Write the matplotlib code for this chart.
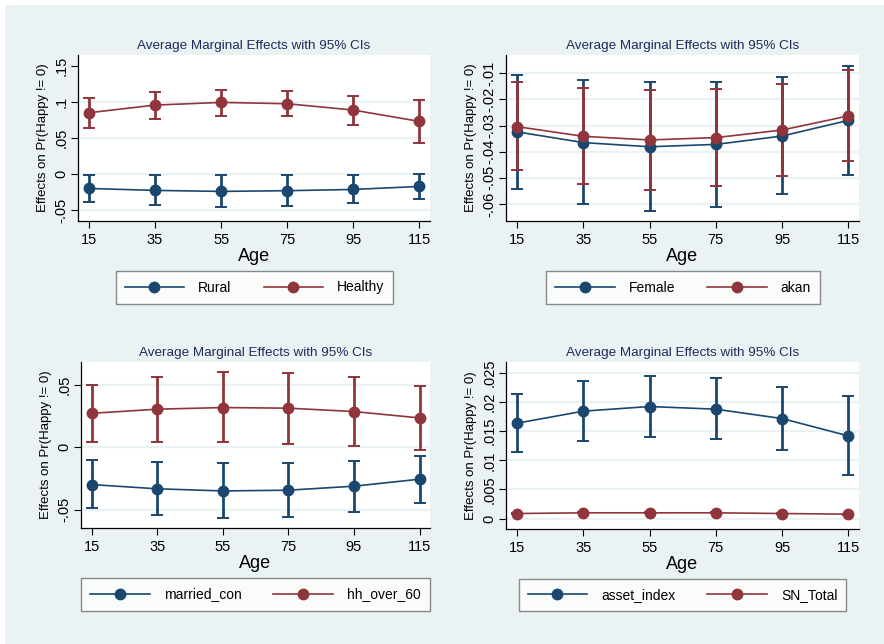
import matplotlib
matplotlib.use("Agg")
import matplotlib.pyplot as plt
from matplotlib.patches import Rectangle

plt.rcParams["font.family"] = ["Liberation Sans", "DejaVu Sans"]

BLUE = "#1a476f"
RED = "#90353b"
BG = "#eaf2f3"
TITLE_C = "#1e2c5c"

ages = [15, 35, 55, 75, 95, 115]

# panel 1
rural = [-0.0199, -0.0226, -0.0240, -0.0230, -0.0213, -0.0171]
rural_lo = [-0.0388, -0.0434, -0.0453, -0.0444, -0.0407, -0.0351]
rural_hi = [-0.0014, -0.0014, -0.0014, -0.0014, -0.0009, 0.0000]
healthy = [0.0850, 0.0956, 0.0993, 0.0975, 0.0887, 0.0730]
healthy_lo = [0.0640, 0.0767, 0.0810, 0.0800, 0.0680, 0.0430]
healthy_hi = [0.1050, 0.1140, 0.1170, 0.1146, 0.1080, 0.1026]

# panel 2
female = [-0.0324, -0.0365, -0.0381, -0.0372, -0.0340, -0.0280]
female_lo = [-0.0541, -0.0601, -0.0627, -0.0613, -0.0563, -0.0489]
female_hi = [-0.0106, -0.0127, -0.0134, -0.0132, -0.0115, -0.0071]
akan = [-0.0304, -0.0341, -0.0355, -0.0346, -0.0317, -0.0263]
akan_lo = [-0.0471, -0.0525, -0.0546, -0.0532, -0.0493, -0.0434]
akan_hi = [-0.0132, -0.0156, -0.0164, -0.0160, -0.0140, -0.0089]

# panel 3
married = [-0.0298, -0.0332, -0.0349, -0.0343, -0.0311, -0.0255]
married_lo = [-0.0488, -0.0544, -0.0568, -0.0558, -0.0515, -0.0445]
married_hi = [-0.0105, -0.0118, -0.0123, -0.0123, -0.0107, -0.0067]
hh60 = [0.0273, 0.0306, 0.0319, 0.0314, 0.0287, 0.0236]
hh60_lo = [0.0043, 0.0046, 0.0040, 0.0029, 0.0008, -0.0024]
hh60_hi = [0.0499, 0.0566, 0.0601, 0.0598, 0.0560, 0.0493]

# panel 4
asset = [0.01638, 0.01845, 0.01925, 0.01879, 0.01718, 0.01420]
asset_lo = [0.01144, 0.01339, 0.01402, 0.01362, 0.01172, 0.00741]
asset_hi = [0.02144, 0.02356, 0.02448, 0.02408, 0.02264, 0.02103]
sn = [0.00086, 0.00098, 0.00098, 0.00098, 0.00086, 0.00075]
sn_lo = [0.00080, 0.00090, 0.00090, 0.00090, 0.00080, 0.00068]
sn_hi = [0.00092, 0.00106, 0.00106, 0.00106, 0.00092, 0.00082]

W, H = 884, 644
fig = plt.figure(figsize=(W / 100, H / 100), dpi=100)
fig.patch.set_facecolor("white")
fig.patches.append(Rectangle((5 / W, 0), 1, 1 - 5 / H, transform=fig.transFigure,
                             facecolor=BG, edgecolor="none", zorder=-10))


def px_axes(l, t, r, b):
    return fig.add_axes([l / W, 1 - b / H, (r - l) / W, (b - t) / H])


panels = [
    dict(box=(78, 55, 430, 221), ylim=(-0.065, 0.165),
         yticks=[-0.05, 0, 0.05, 0.1, 0.15], ylabels=["-.05", "0", ".05", ".1", ".15"],
         grid=[-0.05, 0, 0.05, 0.1],
         series=[("Rural", rural, rural_lo, rural_hi, BLUE),
                 ("Healthy", healthy, healthy_lo, healthy_hi, RED)],
         legend=(116, 272, 393, 303)),
    dict(box=(506, 55, 859, 221), ylim=(-0.0665, -0.003),
         yticks=[-0.06, -0.05, -0.04, -0.03, -0.02, -0.01],
         ylabels=["-.06", "-.05", "-.04", "-.03", "-.02", "-.01"],
         grid=[-0.06, -0.05, -0.04, -0.03, -0.02, -0.01],
         series=[("Female", female, female_lo, female_hi, BLUE),
                 ("akan", akan, akan_lo, akan_hi, RED)],
         legend=(546, 272, 820, 303)),
    dict(box=(81, 362, 430, 528), ylim=(-0.0646, 0.0684),
         yticks=[-0.05, 0, 0.05], ylabels=["-.05", "0", ".05"],
         grid=[-0.05, 0, 0.05],
         series=[("married_con", married, married_lo, married_hi, BLUE),
                 ("hh_over_60", hh60, hh60_lo, hh60_hi, RED)],
         legend=(87, 579, 424, 610)),
    dict(box=(506, 362, 859, 529), ylim=(-0.0018, 0.0269),
         yticks=[0, 0.005, 0.01, 0.015, 0.02, 0.025],
         ylabels=["0", ".005", ".01", ".015", ".02", ".025"],
         grid=[0, 0.005, 0.01, 0.015, 0.02, 0.025],
         series=[("asset_index", asset, asset_lo, asset_hi, BLUE),
                 ("SN_Total", sn, sn_lo, sn_hi, RED)],
         legend=(518, 580, 847, 610)),
]

for p in panels:
    ax = px_axes(*p["box"])
    ax.set_facecolor("white")
    for g in p["grid"]:
        ax.axhline(g, color=BG, lw=1.6, zorder=0)
    handles = []
    for name, y, lo, hi, c in p["series"]:
        err = [[v - l for v, l in zip(y, lo)], [h - v for v, h in zip(y, hi)]]
        ax.errorbar(ages, y, yerr=err, fmt="none", ecolor=c, elinewidth=2.0,
                    capsize=4.3, capthick=1.4, zorder=2)
        h, = ax.plot(ages, y, color=c, lw=1.2, marker="o", ms=7.5, zorder=3, label=name)
        handles.append(h)
    ax.set_xlim(11.7, 118.2)
    ax.set_ylim(*p["ylim"])
    ax.set_xticks(ages)
    ax.set_yticks(p["yticks"])
    ax.set_yticklabels(p["ylabels"], rotation=90, va="center")
    ax.tick_params(axis="both", labelsize=10.5, length=5, width=0.8, color="black")
    ax.tick_params(axis="y", pad=2)
    for s in ["top", "right"]:
        ax.spines[s].set_visible(False)
    for s in ["left", "bottom"]:
        ax.spines[s].set_linewidth(0.9)
    ax.set_xlabel("Age", fontsize=13, labelpad=1)
    ax.set_ylabel("Effects on Pr(Happy != 0)", fontsize=9.5, labelpad=4)
    ax.set_title("Average Marginal Effects with 95% CIs", fontsize=9.7, color=TITLE_C, pad=4)
    l, t, r, b = p["legend"]
    leg = fig.legend(handles=handles, loc="center",
                     bbox_to_anchor=((l + r) / 2 / W, 1 - (t + b) / 2 / H),
                     ncol=2, fontsize=10, frameon=True, fancybox=False,
                     handlelength=4.3, columnspacing=2.3, handletextpad=1.0,
                     borderpad=0.65, borderaxespad=0)
    fr = leg.get_frame()
    fr.set_edgecolor("#6e6e6e")
    fr.set_linewidth(1.0)

fig.savefig("out.png", dpi=100, facecolor=fig.get_facecolor())
